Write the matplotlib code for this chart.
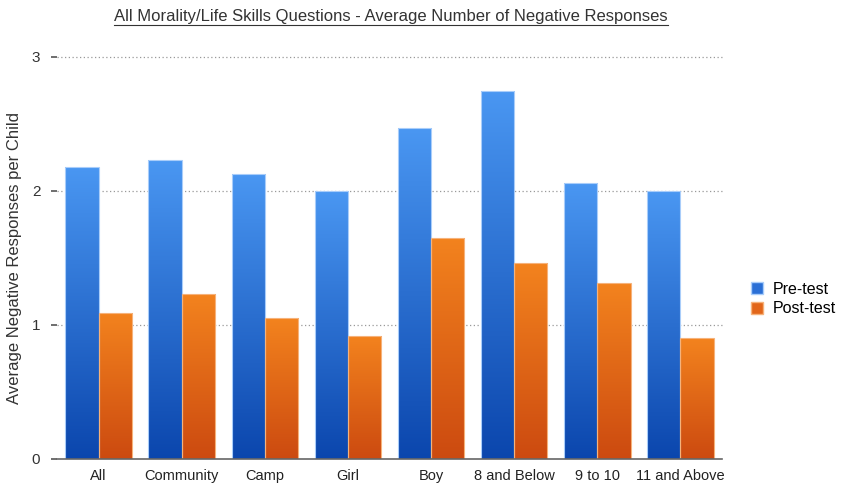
import numpy as np
import matplotlib
matplotlib.use('Agg')
import matplotlib.pyplot as plt
from matplotlib.colors import LinearSegmentedColormap
from matplotlib.lines import Line2D
from matplotlib.patches import Patch

groups = ['All', 'Community', 'Camp', 'Girl', 'Boy', '8 and Below', '9 to 10', '11 and Above']
pre_test = [2.18, 2.23, 2.13, 2.00, 2.47, 2.75, 2.06, 2.00]
post_test = [1.09, 1.23, 1.05, 0.92, 1.65, 1.46, 1.31, 0.90]
yticks = [0, 1, 2, 3]

plt.rcParams['font.family'] = ['Liberation Sans', 'DejaVu Sans']

blue_cm = LinearSegmentedColormap.from_list('blue', ['#0b46ad', '#4a97f2'])
orange_cm = LinearSegmentedColormap.from_list('orange', ['#cc4a10', '#f3831e'])

fig = plt.figure(figsize=(8.43, 4.83), dpi=100)
ax = fig.add_axes([57/843, 1-459/483, (722-57)/843, (459-57)/483])

x = np.arange(len(groups))
w = 0.4
grad = np.linspace(0, 1, 256).reshape(-1, 1)


def gradient_bars(xs, vals, cmap, edge):
    bars = ax.bar(xs, vals, w, color='none', edgecolor=edge, linewidth=0.8, zorder=3)
    for b in bars:
        x0 = b.get_x()
        im = ax.imshow(grad, cmap=cmap, origin='lower', aspect='auto',
                       extent=(x0, x0 + b.get_width(), 0, b.get_height()), zorder=2)
        im.set_clip_path(b)
    return bars


gradient_bars(x - w/2, pre_test, blue_cm, '#a9cdfa')
gradient_bars(x + w/2, post_test, orange_cm, '#f6b27a')

ax.set_xlim(-0.5, len(groups) - 0.5)
ax.set_ylim(0, 3)
ax.set_yticks(yticks)
ax.set_yticklabels([str(t) for t in yticks], fontsize=11, color='#333333')
ax.set_xticks(x)
ax.set_xticklabels(groups, fontsize=10.5, color='#222222')
ax.tick_params(axis='x', length=0, pad=7)
ax.tick_params(axis='y', length=4, width=1.2, color='#555555', pad=8)
for t in yticks[1:]:
    ax.axhline(t, color='#999999', linestyle=(0, (1, 2)), linewidth=0.9, zorder=1, clip_on=False)

for s in ['top', 'right', 'left']:
    ax.spines[s].set_visible(False)
ax.spines['bottom'].set_color('#666666')
ax.spines['bottom'].set_linewidth(1.2)
ax.spines['bottom'].set_zorder(4)

ax.set_ylabel('Average Negative Responses per Child', fontsize=12, color='#333333')
ax.yaxis.set_label_coords(-0.052, 0.5)

handles = [Patch(facecolor='#2a6fd6', edgecolor='#a9cdfa', label='Pre-test'),
           Patch(facecolor='#e2661a', edgecolor='#f6b27a', label='Post-test')]
fig.legend(handles=handles, loc='center left', bbox_to_anchor=(737/843, 1-299/483),
           frameon=False, fontsize=11.5, handlelength=0.75, handleheight=0.75,
           handletextpad=0.6, labelspacing=0.3)

title = fig.text(391/843, 1-17/483, 'All Morality/Life Skills Questions - Average Number of Negative Responses',
                 ha='center', va='center', fontsize=12, color='#333333')

# underline the title
fig.canvas.draw()
bb = title.get_window_extent().transformed(fig.transFigure.inverted())
fig.add_artist(Line2D([bb.x0, bb.x1], [bb.y0 - 0.002, bb.y0 - 0.002],
                      transform=fig.transFigure, color='#333333', linewidth=0.8))

fig.savefig('out.png', dpi=100)
